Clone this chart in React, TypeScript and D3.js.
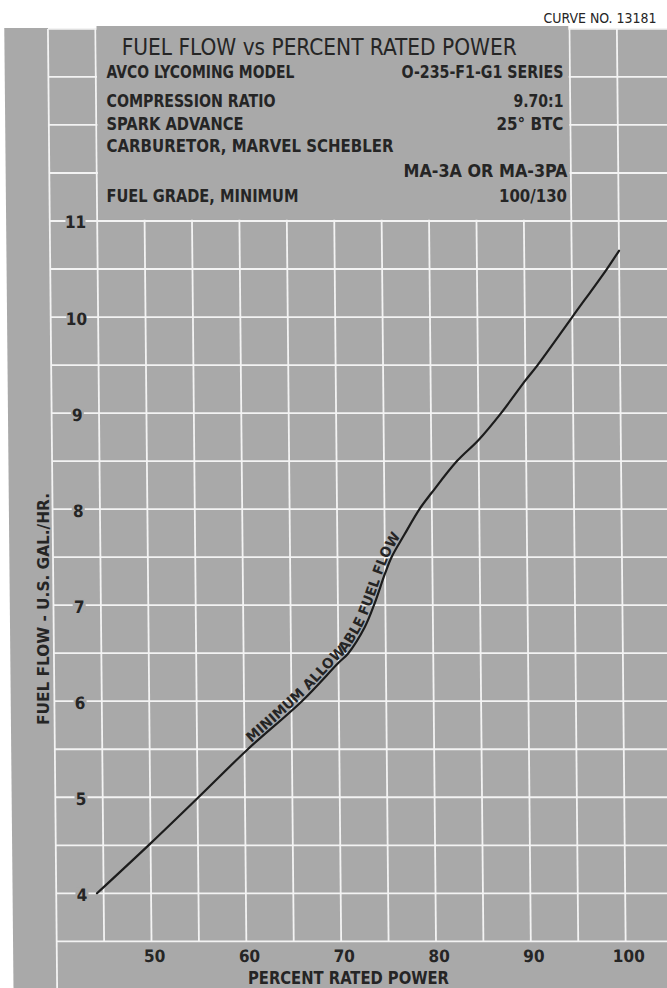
import React from 'react';
import * as d3 from 'd3';

// Fuel flow curve: percent rated power vs U.S. gal/hr
const powerPct = [44.3, 50, 55.1, 60.35, 66.1, 70, 71.05, 72.8, 73.8, 75, 75.7, 77.05, 78.7, 80, 82.7, 85, 87.4, 90, 91.3, 95, 98.7, 100];
const fuelFlow = [4.0, 4.52, 5.0, 5.5, 6.0, 6.4, 6.5, 6.77, 7.0, 7.33, 7.5, 7.73, 8.0, 8.17, 8.5, 8.72, 9.0, 9.34, 9.5, 10.0, 10.5, 10.69];

const xTicks = [50, 60, 70, 80, 90, 100];
const yTicks = [4, 5, 6, 7, 8, 9, 10, 11];
const xGridValues = [40, 45, 50, 55, 60, 65, 70, 75, 80, 85, 90, 95, 100];
const yGridValues = [3.5, 4, 4.5, 5, 5.5, 6, 6.5, 7, 7.5, 8, 8.5, 9, 9.5, 10, 10.5, 11, 11.5, 12, 12.5, 13];

const titleText = 'FUEL FLOW vs PERCENT RATED POWER';
const specLeft = ['AVCO LYCOMING MODEL', 'COMPRESSION RATIO', 'SPARK ADVANCE', 'CARBURETOR, MARVEL SCHEBLER', '', 'FUEL GRADE, MINIMUM'];
const specRight = ['O-235-F1-G1 SERIES', '9.70:1', '25° BTC', '', 'MA-3A OR MA-3PA', '100/130'];
const curveNumber = 'CURVE NO. 13181';
const curveLabel = 'MINIMUM ALLOWABLE FUEL FLOW';
const xTitle = 'PERCENT RATED POWER';
const yTitle = 'FUEL FLOW - U.S. GAL./HR.';

const FONT = "'Liberation Sans Narrow', 'DejaVu Sans Condensed', 'Arial Narrow', sans-serif";
const BG = '#a9a9a9';
const INK = '#252525';
const GRID = '#f3f3f3';

// header block rows: baseline, left width, right edge, right width
const specLayout = [
  { y: 77.5, lw: 188, rx: 563.5, rw: 162 },
  { y: 107, lw: 169, rx: 563.5, rw: 50 },
  { y: 129.5, lw: 137, rx: 563.5, rw: 67 },
  { y: 151.5, lw: 287, rx: 563.5, rw: 0 },
  { y: 177, lw: 0, rx: 567.5, rw: 164 },
  { y: 201.5, lw: 192, rx: 567, rw: 68 },
];

export default function App() {
  const W = 667;
  const H = 988;
  const skewDeg = 0.55;

  const x = d3.scaleLinear().domain([60, 100]).range([237.3, 616.6]);
  const y = d3.scaleLinear().domain([4, 11]).range([893.3, 221]);

  const pts: [number, number][] = powerPct.map((p, i) => [p, fuelFlow[i]]);
  const line = d3
    .line<[number, number]>()
    .x((d) => x(d[0]))
    .y((d) => y(d[1]))
    .curve(d3.curveCatmullRom.alpha(0.5));
  const labelPts = pts.filter((d) => d[0] >= 60 && d[0] <= 82.7);

  const gridTop = y(13);
  const gridBottom = y(3.5);

  return (
    <svg
      width={W}
      height={H}
      viewBox={`0 0 ${W} ${H}`}
      style={{ position: 'absolute', left: 0, top: 0, display: 'block', background: '#ffffff' }}
    >
      <g transform={`skewX(${skewDeg})`}>
        <rect x={4} y={28} width={W + 20} height={H} fill={BG} />

        {/* grid */}
        {xGridValues.map((v) => (
          <line
            key={`gx${v}`}
            x1={x(v)}
            x2={x(v)}
            y1={gridTop}
            y2={v === 40 ? H + 10 : gridBottom}
            stroke={GRID}
            strokeWidth={1.8}
          />
        ))}
        {yGridValues.map((v) => (
          <line
            key={`gy${v}`}
            x1={x(40)}
            x2={W + 20}
            y1={y(v)}
            y2={y(v)}
            stroke={GRID}
            strokeWidth={1.8}
          />
        ))}

        {/* header block */}
        <rect
          x={x(45) + 1.2}
          y={gridTop - 3}
          width={x(95) - x(45) - 2.4}
          height={y(11) - gridTop + 1.8}
          fill={BG}
        />

        {/* y tick labels */}
        {yTicks.map((v) => {
          const cx = x(42.5) + 2;
          const w = v >= 10 ? 20 : 13;
          return (
            <g key={`yt${v}`}>
              <rect x={cx - w / 2} y={y(v) - 6} width={w} height={12} fill={BG} />
              <text
                x={cx}
                y={y(v) + 7.5}
                textAnchor="middle"
                fontFamily={FONT}
                fontWeight="bold"
                fontSize={17}
                fill={INK}
              >
                {v}
              </text>
            </g>
          );
        })}

        {/* x tick labels */}
        {xTicks.map((v) => (
          <text
            key={`xt${v}`}
            x={x(v) + 3}
            y={962.5}
            textAnchor="middle"
            fontFamily={FONT}
            fontWeight="bold"
            fontSize={17}
            fill={INK}
          >
            {v}
          </text>
        ))}

        {/* curve */}
        <path d={line(pts) ?? ''} fill="none" stroke="#1c1c1c" strokeWidth={2.2} strokeLinecap="round" />
        <path id="fuel-label-path" d={line(labelPts) ?? ''} fill="none" stroke="none" />
        <text fontFamily={FONT} fontWeight="bold" fontSize={14} fill={INK} dy={-2.5}>
          <textPath href="#fuel-label-path" startOffset={7} textLength={262} lengthAdjust="spacingAndGlyphs">
            {curveLabel}
          </textPath>
        </text>
      </g>

      {/* header texts */}
      <text x={121.7} y={55} fontFamily={FONT} fontSize={23} fill={INK} textLength={395} lengthAdjust="spacingAndGlyphs">
        {titleText}
      </text>
      {specLayout.map((r, i) => (
        <g key={`spec${i}`}>
          {specLeft[i] && (
            <text
              x={106.5}
              y={r.y}
              fontFamily={FONT}
              fontWeight="bold"
              fontSize={18.5}
              fill={INK}
              textLength={r.lw}
              lengthAdjust="spacingAndGlyphs"
            >
              {specLeft[i]}
            </text>
          )}
          {specRight[i] && (
            <text
              x={r.rx - r.rw}
              y={r.y}
              fontFamily={FONT}
              fontWeight="bold"
              fontSize={18.5}
              fill={INK}
              textLength={r.rw}
              lengthAdjust="spacingAndGlyphs"
            >
              {specRight[i]}
            </text>
          )}
        </g>
      ))}
      <text x={543.5} y={23} fontFamily={FONT} fontSize={14} fill={INK} textLength={113} lengthAdjust="spacingAndGlyphs">
        {curveNumber}
      </text>

      {/* axis titles */}
      <text
        x={248}
        y={984}
        fontFamily={FONT}
        fontWeight="bold"
        fontSize={17}
        fill={INK}
        textLength={201}
        lengthAdjust="spacingAndGlyphs"
      >
        {xTitle}
      </text>
      <text
        transform="translate(48.5,725) rotate(-90)"
        x={0}
        y={0}
        fontFamily={FONT}
        fontWeight="bold"
        fontSize={15.5}
        fill={INK}
        textLength={232}
        lengthAdjust="spacingAndGlyphs"
      >
        {yTitle}
      </text>
    </svg>
  );
}
